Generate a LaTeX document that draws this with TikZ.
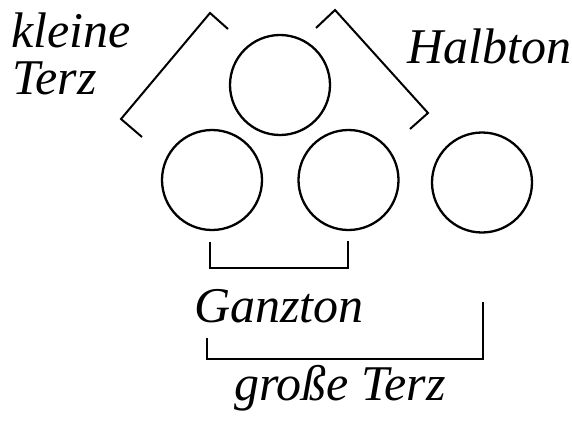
\documentclass[tikz,border=0pt]{standalone}
\usepackage{fontspec}
\setmainfont{Liberation Serif}
\begin{document}
\begin{tikzpicture}[x=1pt,y=-1pt,
  note/.style={circle,draw,line width=2.3pt,minimum size=100pt,inner sep=0pt},
  brack/.style={line width=2pt,line join=miter},
  lbl/.style={anchor=base west,inner sep=0pt,font=\fontsize{50}{52}\selectfont\itshape}]
\useasboundingbox (0,0) rectangle (572,423);
\node[note] (top) at (280,85) {};
\node[note] (n1) at (212,180) {};
\node[note] (n2) at (348.5,180) {};
\node[note] (n3) at (482,182.5) {};
% brackets
\draw[brack] (228,29) -- (210,13) -- (121,119) -- (142,137);
\draw[brack] (316,28) -- (335,10) -- (428,113) -- (410,129);
\draw[brack] (210,242) -- (210,268) -- (348,268) -- (348,241);
\draw[brack] (207,338) -- (207,359) -- (483,359) -- (483,302);
% labels
\node[lbl] (kl) at (11,47) {kleine};
\node[lbl] (tz) at (12,94) {Terz};
\node[lbl] (hb) at (407,63) {Halbton};
\node[lbl] (gz) at (194,322) {Ganzton};
\node[lbl] (gt) at (234,400) {große Terz};
\end{tikzpicture}
\end{document}
